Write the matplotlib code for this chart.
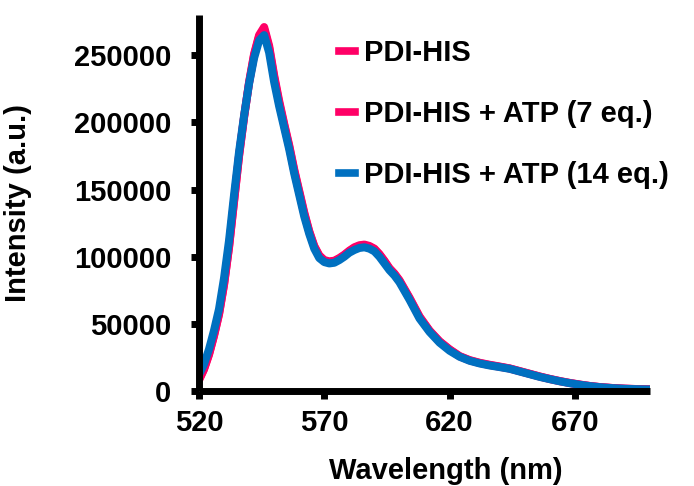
import matplotlib
matplotlib.use("Agg")
import matplotlib.pyplot as plt

plt.rcParams['font.family'] = ['Liberation Sans', 'DejaVu Sans']
plt.rcParams['font.weight'] = 'bold'

wavelength = [520, 522, 524, 526, 528, 530, 532, 534, 536, 538, 540, 542, 544,
              546, 548, 550, 552, 554, 556, 558, 560, 562, 564, 566, 568, 570,
              572, 574, 576, 578, 580, 582, 584, 586, 588, 590, 592, 594, 596,
              598, 600, 604, 608, 612, 616, 620, 624, 628, 632, 636, 640, 644,
              648, 652, 656, 660, 664, 668, 672, 676, 680, 685, 690, 695, 700]

pdi_his = [8000, 16000, 27000, 41000, 57000, 79000, 107000, 141000, 175000,
           204000, 230000, 251000, 265000, 271000, 257000, 235000, 216000,
           199000, 183000, 165000, 149000, 133000, 119000, 108000, 101000,
           97500, 96500, 97000, 99000, 101500, 104500, 107000, 108500, 109000,
           108000, 106000, 102000, 97000, 91500, 87500, 82500, 69500, 55500,
           45000, 37000, 31000, 26000, 23000, 21000, 19500, 18200, 16800,
           14800, 12800, 10800, 9000, 7400, 6000, 4800, 3700, 2900, 2200,
           1700, 1400, 1200]

pdi_his_atp7 = [8500, 16500, 27500, 41500, 57500, 79500, 107500, 141500,
                175500, 204000, 229500, 250000, 264000, 269500, 255500,
                233500, 214500, 198000, 182000, 164000, 148000, 132000,
                118500, 107500, 100500, 97000, 96000, 96500, 98500, 101000,
                104000, 106500, 108000, 108500, 107500, 105500, 101500,
                96500, 91000, 87000, 82000, 69000, 55000, 44800, 36800,
                30800, 25800, 22800, 20800, 19300, 18000, 16700, 14700,
                12700, 10700, 8900, 7300, 5900, 4700, 3700, 2900, 2200,
                1700, 1400, 1200]

pdi_his_atp14 = [12000, 20000, 31000, 45000, 61000, 84000, 112000, 146000,
                 178000, 205000, 229000, 248000, 261000, 265000, 252000,
                 230000, 212000, 196000, 180000, 162000, 146000, 130000,
                 117000, 106000, 99000, 96000, 95000, 95500, 97500, 100000,
                 103000, 105000, 106500, 107000, 106000, 104000, 100000,
                 95000, 90000, 86000, 81000, 68000, 54000, 44000, 36000,
                 30000, 25500, 22500, 20500, 19000, 17800, 16500, 14500,
                 12500, 10500, 8800, 7200, 5800, 4600, 3600, 2800, 2100,
                 1600, 1300, 1100]

pink = '#FF0066'
blue = '#0070C0'
fs = 21

fig = plt.figure(figsize=(6.94, 4.86), dpi=100)
ax = fig.add_axes([0.2867, 0.1955, 0.65, 0.7737])

ax.plot(wavelength, pdi_his, color=pink, lw=5.8, label='PDI-HIS')
ax.plot(wavelength, pdi_his_atp7, color=pink, lw=5.8, label='PDI-HIS + ATP (7 eq.)')
ax.plot(wavelength, pdi_his_atp14, color=blue, lw=5.8, label='PDI-HIS + ATP (14 eq.)')

ax.set_xlim(520, 700)
ax.set_ylim(0, 280000)
ax.set_xticks([520, 570, 620, 670])
ax.set_yticks([0, 50000, 100000, 150000, 200000, 250000])

for side in ['top', 'right']:
    ax.spines[side].set_visible(False)
for side in ['left', 'bottom']:
    ax.spines[side].set_linewidth(5)
    ax.spines[side].set_capstyle('butt')
ax.tick_params(axis='both', direction='out', length=6, width=5, labelsize=fs)
ax.tick_params(axis='y', pad=14)
ax.tick_params(axis='x', pad=7)
for lbl in ax.get_xticklabels() + ax.get_yticklabels():
    lbl.set_fontweight('bold')

ax.set_xlabel('Wavelength (nm)', fontsize=fs, fontweight='bold')
ax.set_ylabel('Intensity (a.u.)', fontsize=fs, fontweight='bold')
ax.xaxis.set_label_coords(0.548, -0.176)
ax.yaxis.set_label_coords(-0.37, 0.5)

leg = ax.legend(loc='upper left', bbox_to_anchor=(0.31, 0.935), frameon=False,
                fontsize=fs, handlelength=0.55, handletextpad=0.3,
                labelspacing=1.12, borderaxespad=0, borderpad=0)
for line in leg.get_lines():
    line.set_linewidth(5.5)
for txt in leg.get_texts():
    txt.set_fontweight('bold')

fig.savefig('out.png', dpi=100)
